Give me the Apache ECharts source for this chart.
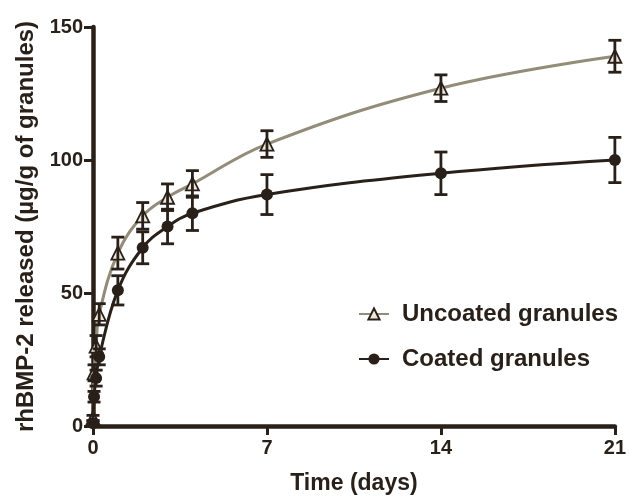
<!DOCTYPE html>
<html>
<head>
<meta charset="utf-8">
<script src="https://cdn.jsdelivr.net/npm/echarts@6/dist/echarts.min.js"></script>
<style>html,body{margin:0;padding:0;background:#fff;}#c{width:629px;height:500px;}</style>
</head>
<body>
<div id="c"></div>
<script>
const days = [0, 0.042, 0.125, 0.25, 1, 2, 3, 4, 7, 14, 21];
const uncoated = [3, 20, 30, 42, 65, 79, 86, 91, 106, 127, 139];
const uncoatedErr = [1, 3, 4, 4, 6, 5, 5, 5, 5, 5, 6];
const coated = [1, 11, 18, 26, 51, 67, 75, 80, 87, 95, 100];
const coatedErr = [1, 2, 3, 3, 5.5, 6, 6.5, 6.5, 7.5, 8, 8.5];
const xTicks = [0, 7, 14, 21];
const yTicks = [0, 50, 100, 150];

const dark = '#2a201a';
const grey = '#928c78';
const font = 'Liberation Sans, Arial, sans-serif';

function errData(vals, errs) {
  return days.map((d, i) => [d, vals[i] - errs[i], vals[i] + errs[i]]);
}
function errRender(color) {
  return function (params, api) {
    const x = api.value(0);
    const p1 = api.coord([x, api.value(1)]);
    const p2 = api.coord([x, api.value(2)]);
    const w = 6.5;
    return {
      type: 'group',
      children: [
        { type: 'line', shape: { x1: p1[0], y1: p1[1], x2: p2[0], y2: p2[1] }, style: { stroke: color, lineWidth: 2.8 } },
        { type: 'line', shape: { x1: p1[0] - w, y1: p1[1], x2: p1[0] + w, y2: p1[1] }, style: { stroke: color, lineWidth: 2.8 } },
        { type: 'line', shape: { x1: p2[0] - w, y1: p2[1], x2: p2[0] + w, y2: p2[1] }, style: { stroke: color, lineWidth: 2.8 } }
      ]
    };
  };
}

const chart = echarts.init(document.getElementById('c'), null, { renderer: 'canvas' });
chart.setOption({
  backgroundColor: '#fff',
  animation: false,
  textStyle: { fontFamily: font },
  grid: { left: 93, right: 8, top: 27, bottom: 72, containLabel: false },
  legend: {
    orient: 'vertical',
    left: 353,
    top: 297,
    itemGap: 21,
    itemWidth: 30,
    itemHeight: 14,
    data: ['Uncoated granules', 'Coated granules'],
    textStyle: { fontSize: 24, fontWeight: 'bold', color: dark, fontFamily: font, padding: [0, 0, 0, 8] }
  },
  xAxis: {
    type: 'value', min: 0, max: 21, interval: 7,
    name: 'Time (days)', nameLocation: 'middle', nameGap: 46,
    nameTextStyle: { fontSize: 23, fontWeight: 'bold', color: dark },
    axisLine: { lineStyle: { color: dark, width: 4.5 } },
    axisTick: { show: true, length: 9, lineStyle: { color: dark, width: 3 }, customValues: xTicks },
    axisLabel: { fontSize: 20, fontWeight: 'bold', color: dark, margin: 12, customValues: xTicks },
    splitLine: { show: false }
  },
  yAxis: {
    type: 'value', min: 0, max: 150, interval: 50,
    name: 'rhBMP-2 released (µg/g of granules)', nameLocation: 'middle', nameGap: 54,
    nameTextStyle: { fontSize: 24, fontWeight: 'bold', color: dark },
    axisLine: { show: true, lineStyle: { color: dark, width: 4.5 } },
    axisTick: { show: true, length: 9, lineStyle: { color: dark, width: 3 }, customValues: yTicks },
    axisLabel: { fontSize: 20, fontWeight: 'bold', color: dark, margin: 10, customValues: yTicks },
    splitLine: { show: false }
  },
  series: [
    {
      name: 'Uncoated granules', type: 'line', smooth: 0.4,
      data: days.map((d, i) => [d, uncoated[i]]),
      symbol: 'triangle', symbolSize: 13, showAllSymbol: true,
      lineStyle: { color: grey, width: 3 },
      itemStyle: { color: '#ece8da', borderColor: dark, borderWidth: 1.8 },
      clip: false, z: 3
    },
    {
      name: 'Coated granules', type: 'line', smooth: 0.4,
      data: days.map((d, i) => [d, coated[i]]),
      symbol: 'circle', symbolSize: 12, showAllSymbol: true,
      lineStyle: { color: dark, width: 3 },
      itemStyle: { color: dark, borderColor: dark, borderWidth: 0 },
      clip: false, z: 3
    },
    {
      type: 'custom', renderItem: errRender(dark), data: errData(uncoated, uncoatedErr),
      encode: { x: 0, y: [1, 2] }, clip: false, z: 4, silent: true
    },
    {
      type: 'custom', renderItem: errRender(dark), data: errData(coated, coatedErr),
      encode: { x: 0, y: [1, 2] }, clip: false, z: 4, silent: true
    }
  ]
});
</script>
</body>
</html>
